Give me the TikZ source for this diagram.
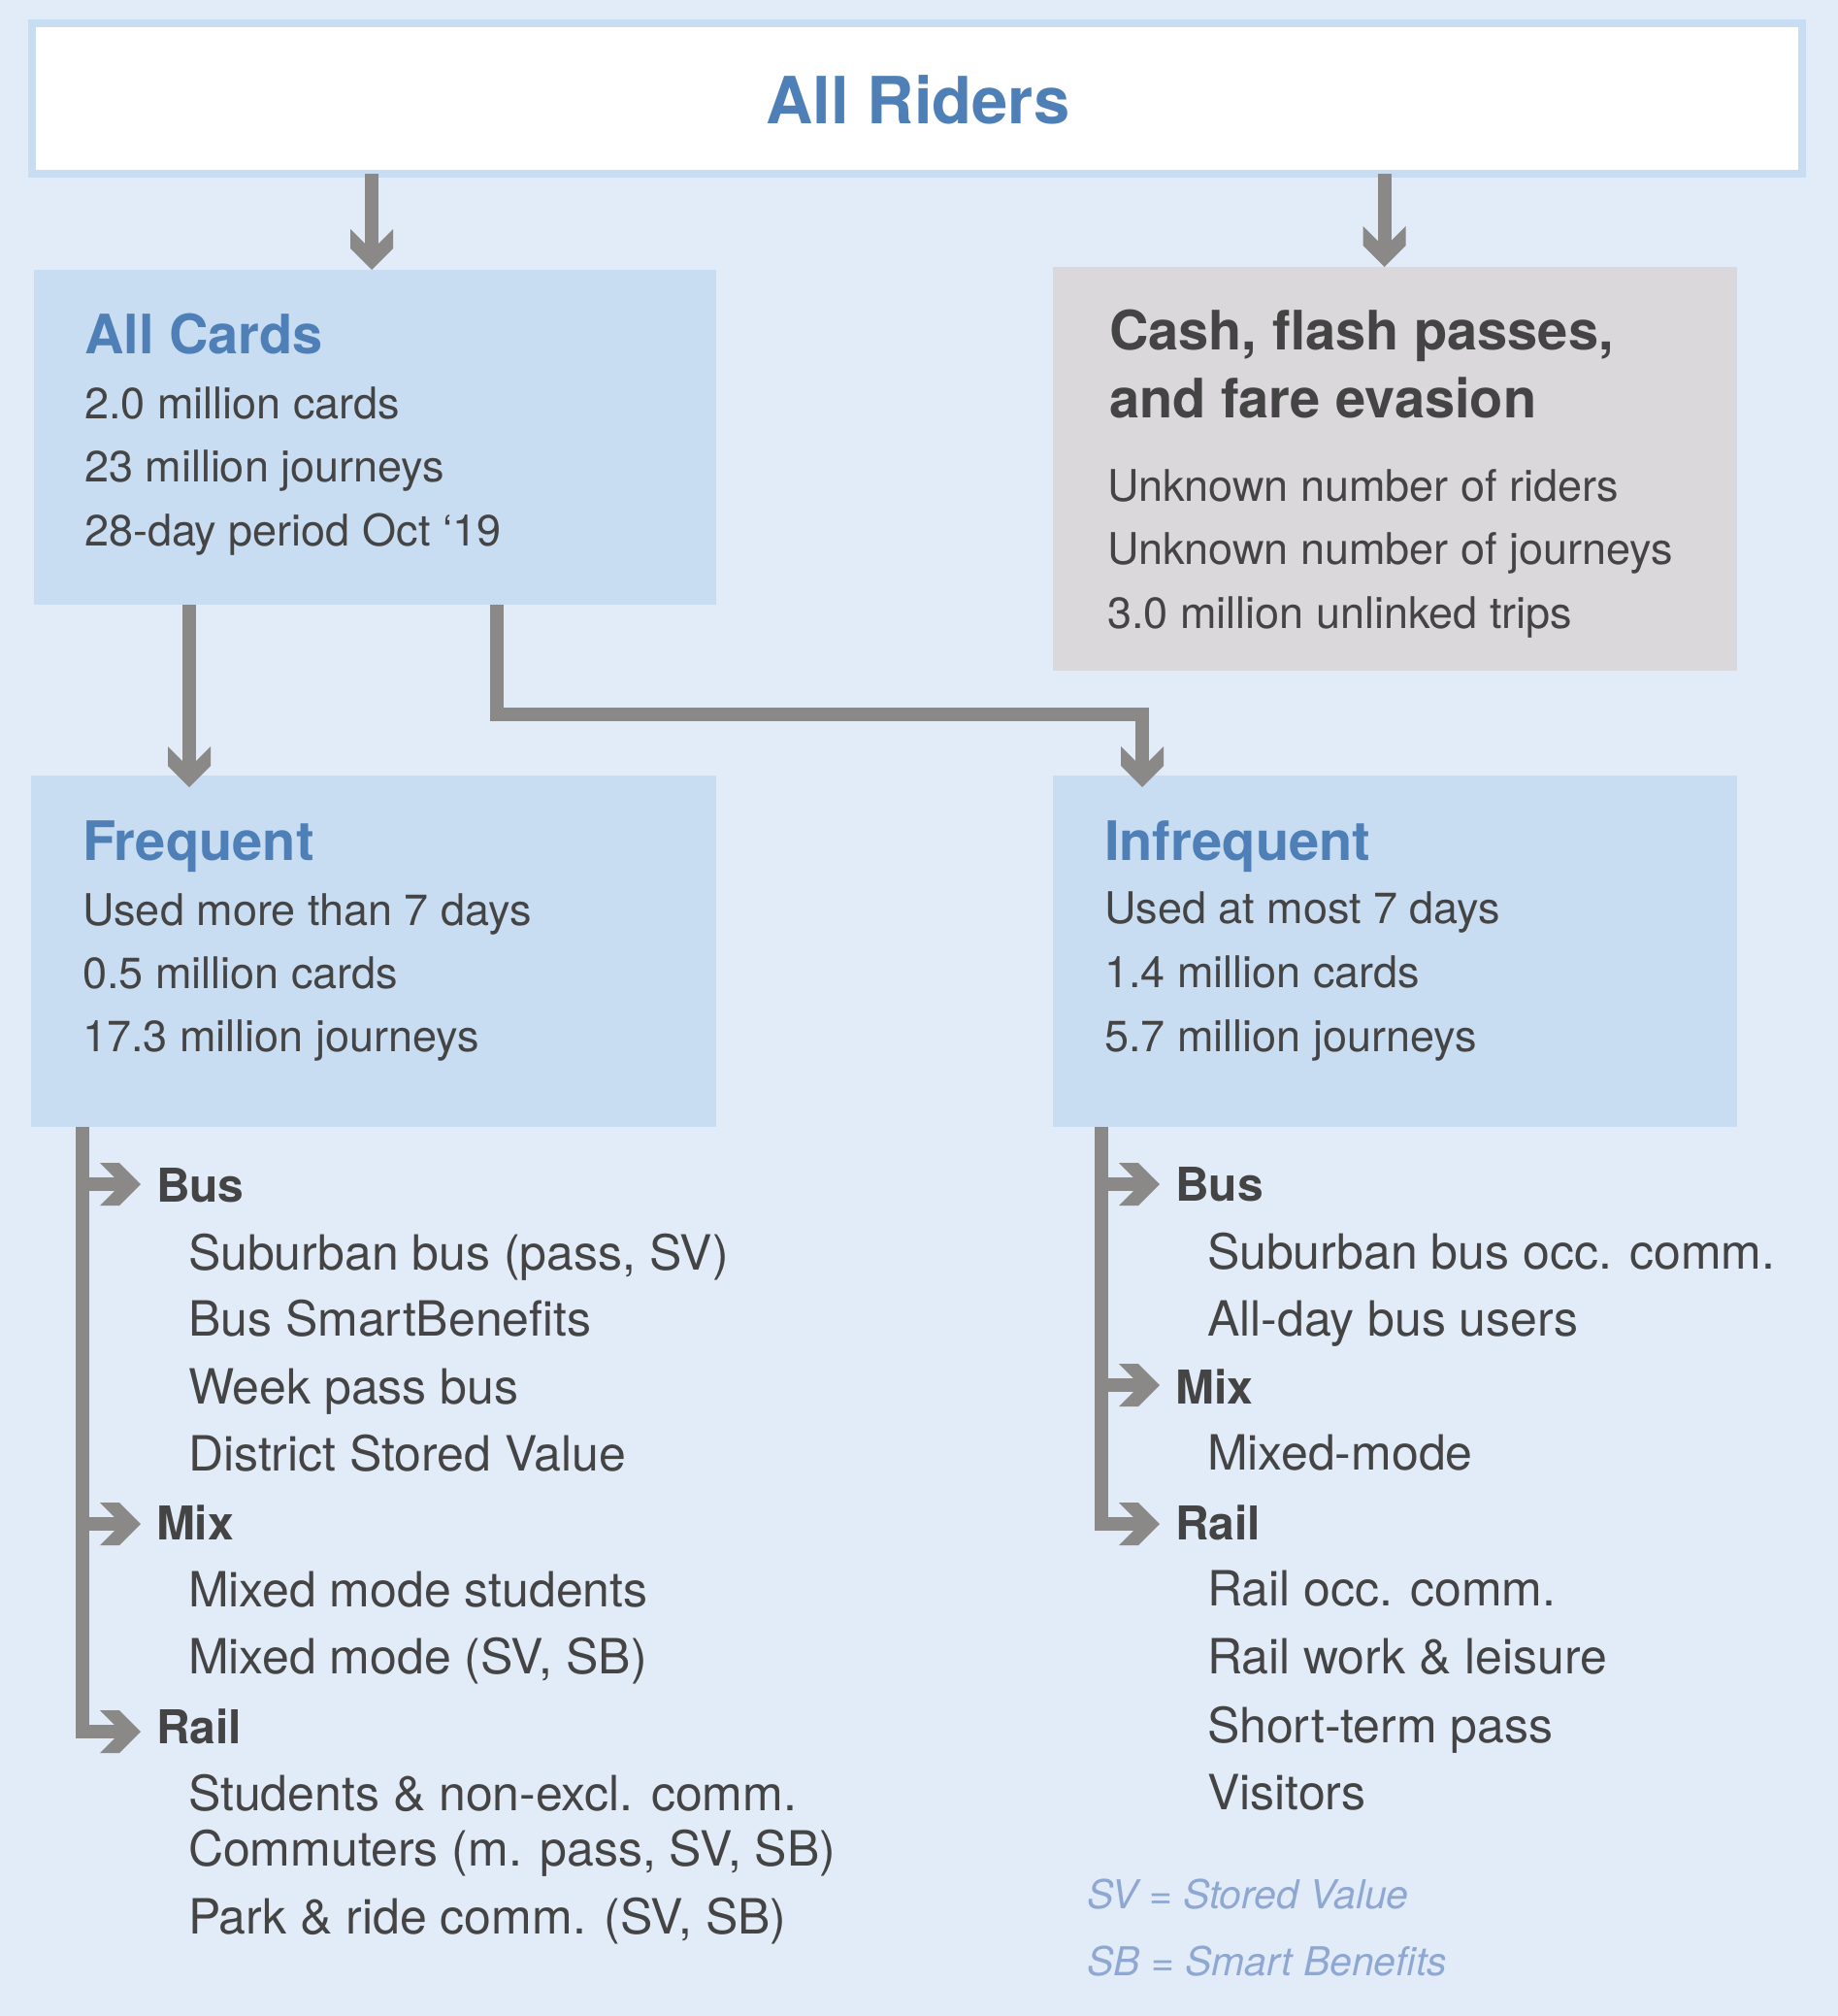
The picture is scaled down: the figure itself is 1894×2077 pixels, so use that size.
\documentclass[tikz,border=0pt]{standalone}
\usepackage{fontspec}
\setmainfont{TeX Gyre Heros}
\usetikzlibrary{arrows.meta,calc}
\definecolor{bg}{HTML}{E2ECF8}
\definecolor{boxblue}{HTML}{C9DDF2}
\definecolor{boxgray}{HTML}{DAD8DA}
\definecolor{arrgray}{HTML}{8A8988}
\definecolor{titleblue}{HTML}{4E7FB6}
\definecolor{darktext}{HTML}{454445}
\definecolor{notecol}{HTML}{8FA8D2}

\pgfdeclarearrow{
  name = Chev,
  setup code = {
    \pgfarrowssettipend{0pt}
    \pgfarrowssetlineend{-12pt}
    \pgfarrowssetbackend{-21pt}
    \pgfarrowshullpoint{0pt}{0pt}
    \pgfarrowshullpoint{-21pt}{11pt}
    \pgfarrowshullpoint{-21pt}{-11pt}
  },
  drawing code = {
    \pgfpathmoveto{\pgfpointorigin}
    \pgfpathlineto{\pgfpoint{-11pt}{11pt}}
    \pgfpathlineto{\pgfpoint{-21pt}{11pt}}
    \pgfpathlineto{\pgfpoint{-13.5pt}{3.5pt}}
    \pgfpathlineto{\pgfpoint{-13.5pt}{-3.5pt}}
    \pgfpathlineto{\pgfpoint{-21pt}{-11pt}}
    \pgfpathlineto{\pgfpoint{-11pt}{-11pt}}
    \pgfpathclose
    \pgfusepathqfill
  }
}

\tikzset{
  boxbase/.style={rectangle, anchor=north west, inner sep=0pt, outer sep=0pt},
  bluebox/.style={boxbase, fill=boxblue},
  graybox/.style={boxbase, fill=boxgray},
  topbox/.style={boxbase, fill=white, draw=boxblue, line width=4pt},
  txt/.style={anchor=base west, inner sep=0pt, outer sep=0pt, text=darktext, font=\fontsize{22.5}{27}\selectfont},
  ttl/.style={anchor=base west, inner sep=0pt, outer sep=0pt, text=titleblue, font=\fontsize{28}{34}\selectfont\bfseries},
  cashttl/.style={ttl, text=darktext},
  lbl/.style={anchor=base west, inner sep=0pt, outer sep=0pt, text=darktext, font=\fontsize{24}{29}\selectfont\bfseries},
  item/.style={anchor=base west, inner sep=0pt, outer sep=0pt, text=darktext, font=\fontsize{25}{30}\selectfont},
  note/.style={anchor=base west, inner sep=0pt, outer sep=0pt, text=notecol, font=\fontsize{20.5}{25}\selectfont\itshape},
  conn/.style={draw=arrgray, line width=7pt, -{Chev}}
}

\begin{document}
\begin{tikzpicture}[x=0.5pt,y=-0.5pt]
\useasboundingbox[fill=bg] (0,0) rectangle (1894,2077);

% boxes
\node[topbox, minimum width=912pt, minimum height=77.5pt] (riders) at (33,24) {};
\node[bluebox, minimum width=351.5pt, minimum height=172.5pt] (cards) at (35,278) {};
\node[graybox, minimum width=352.5pt, minimum height=208pt] (cash) at (1085,275) {};
\node[bluebox, minimum width=353pt, minimum height=181pt] (freq) at (32,799) {};
\node[bluebox, minimum width=352.5pt, minimum height=181pt] (infreq) at (1085,799) {};

% top title
\node[anchor=base, inner sep=0pt, text=titleblue, font=\fontsize{33.5}{40}\selectfont\bfseries] (ridersT) at (946,127) {All Riders};

% All Cards
\node[ttl] (cardsT) at (87,364) {All Cards};
\node[txt] (cards1) at (87,431) {2.0 million cards};
\node[txt] (cards2) at (87,496) {23 million journeys};
\node[txt] (cards3) at (87,562) {28-day period Oct ‘19};

% Cash
\node[cashttl] (cashT1) at (1143,360) {Cash, flash passes,};
\node[cashttl] (cashT2) at (1143,430) {and fare evasion};
\node[txt] (cash1) at (1141,516) {Unknown number of riders};
\node[txt] (cash2) at (1141,581) {Unknown number of journeys};
\node[txt] (cash3) at (1141,647) {3.0 million unlinked trips};

% Frequent
\node[ttl] (freqT) at (85,886) {Frequent};
\node[txt] (freq1) at (85,953) {Used more than 7 days};
\node[txt] (freq2) at (85,1018) {0.5 million cards};
\node[txt] (freq3) at (85,1083) {17.3 million journeys};

% Infrequent
\node[ttl] (infreqT) at (1138,886) {Infrequent};
\node[txt] (infreq1) at (1138,951) {Used at most 7 days};
\node[txt] (infreq2) at (1138,1017) {1.4 million cards};
\node[txt] (infreq3) at (1138,1083) {5.7 million journeys};

% left list
\node[lbl] (busL) at (161,1238) {Bus};
\node[item] (bl1) at (194,1308) {Suburban bus (pass, SV)};
\node[item] (bl2) at (194,1376) {Bus SmartBenefits};
\node[item] (bl3) at (194,1446) {Week pass bus};
\node[item] (bl4) at (194,1515) {District Stored Value};
\node[lbl] (mixL) at (161,1586) {Mix};
\node[item] (ml1) at (194,1655) {Mixed mode students};
\node[item] (ml2) at (194,1724) {Mixed mode (SV, SB)};
\node[lbl] (railL) at (161,1796) {Rail};
\node[item] (rl1) at (194,1865) {Students \& non-excl. comm.};
\node[item] (rl2) at (194,1922) {Commuters (m. pass, SV, SB)};
\node[item] (rl3) at (194,1992) {Park \& ride comm. (SV, SB)};

% right list
\node[lbl] (busR) at (1211,1237) {Bus};
\node[item] (br1) at (1244,1307.5) {Suburban bus occ. comm.};
\node[item] (br2) at (1244,1376) {All-day bus users};
\node[lbl] (mixR) at (1211,1446) {Mix};
\node[item] (mr1) at (1244,1514) {Mixed-mode};
\node[lbl] (railR) at (1211,1586) {Rail};
\node[item] (rr1) at (1244,1654.5) {Rail occ. comm.};
\node[item] (rr2) at (1244,1724) {Rail work \& leisure};
\node[item] (rr3) at (1244,1795) {Short-term pass};
\node[item] (rr4) at (1244,1864.5) {Visitors};

% notes
\node[note] (note1) at (1120,1966) {SV = Stored Value};
\node[note] (note2) at (1120,2035) {SB = Smart Benefits};

% branch coordinates
\coordinate (jBusL) at (85,1220);
\coordinate (tBusL) at (145,1220);
\coordinate (jMixL) at (85,1570);
\coordinate (tMixL) at (145,1570);
\coordinate (tRailL) at (145,1784);
\coordinate (jBusR) at (1135,1220);
\coordinate (tBusR) at (1195,1220);
\coordinate (jMixR) at (1135,1427);
\coordinate (tMixR) at (1195,1427);
\coordinate (tRailR) at (1195,1570);

% connectors
\draw[conn] ($(riders.south -| cards.north)+(-3.5,0)$) -- ($(cards.north)+(-3.5,0)$);
\draw[conn] ($(riders.south -| cash.north)+(-11,0)$) -- ($(cash.north)+(-11,0)$);
\draw[conn] ($(cards.south)+(-191.5,0)$) -- ($(freq.north)+(-190,12)$);
\draw[conn] ($(cards.south)+(125.5,0)$) -- ++(0,113) -| ($(infreq.north)+(-260.5,12)$);

\draw[conn] ($(freq.south)+(-300,0)$) |- (tRailL);
\draw[conn] (jBusL) -- (tBusL);
\draw[conn] (jMixL) -- (tMixL);

\draw[conn] ($(infreq.south)+(-302.5,0)$) |- (tRailR);
\draw[conn] (jBusR) -- (tBusR);
\draw[conn] (jMixR) -- (tMixR);
\end{tikzpicture}
\end{document}
